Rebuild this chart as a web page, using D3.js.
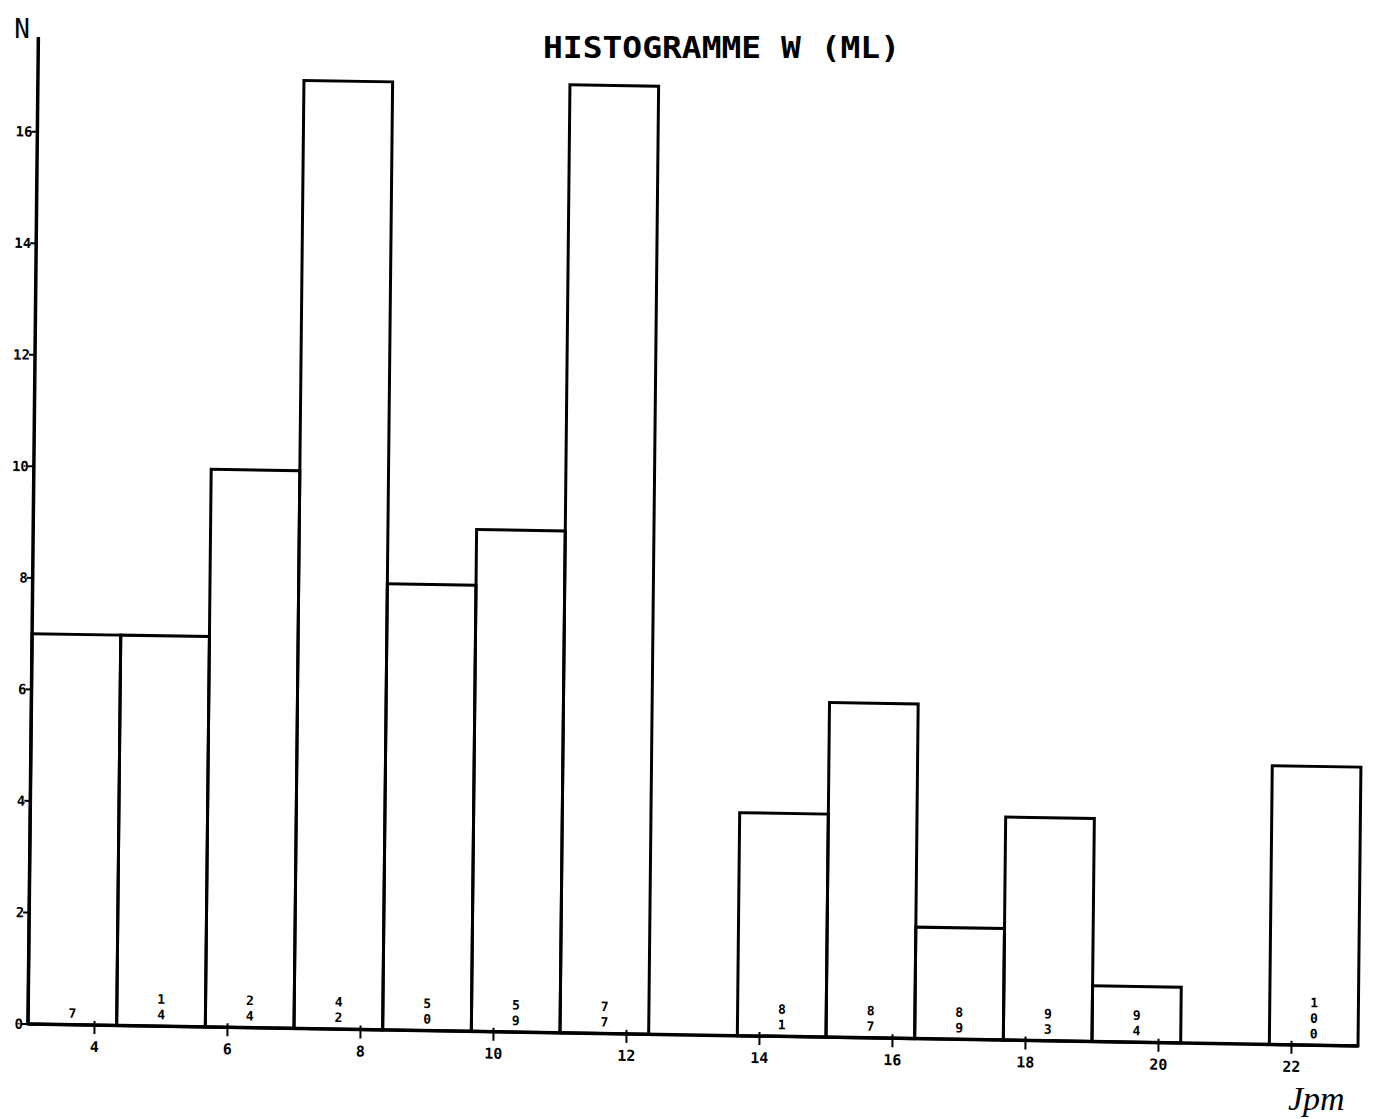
<!DOCTYPE html>
<html>
<head>
<meta charset="utf-8">
<script src="https://cdn.jsdelivr.net/npm/d3@7"></script>
<style>
  html, body { margin: 0; padding: 0; background: #fff; }
  svg { display: block; }
</style>
</head>
<body>
<script>
// ---- data ----
const binStart = 3;
const binWidth = 4 / 3;
const counts = [7, 7, 10, 17, 8, 9, 17, 0, 4, 6, 2, 4, 1, 0, 5];
const cumLabels = ["7", "14", "24", "42", "50", "59", "77", "", "81", "87", "89", "93", "94", "", "100"];
const xTicks = [4, 6, 8, 10, 12, 14, 16, 18, 20, 22];
const yTicks = [0, 2, 4, 6, 8, 10, 12, 14, 16];
const titleText = "HISTOGRAMME W (ML)";
const yAxisLabel = "N";
const signature = "Jpm";

const W = 1373, H = 1119;
const svg = d3.select("body").append("svg").attr("width", W).attr("height", H);

const x = d3.scaleLinear().domain([3, 23]).range([28, 1358]);
const y = d3.scaleLinear().domain([0, 17.7]).range([1024, 37]);

// slight skew of the scanned plot
const g = svg.append("g").attr("transform", "matrix(1,0.0165,-0.0105,1,10.75,-0.46)");

const bins = counts.map((c, i) => ({
  x0: binStart + i * binWidth,
  x1: binStart + (i + 1) * binWidth,
  n: c,
  lab: cumLabels[i]
}));

// bars
g.selectAll("rect.bar").data(bins.filter(d => d.n > 0)).join("rect")
  .attr("class", "bar")
  .attr("x", d => x(d.x0))
  .attr("width", d => x(d.x1) - x(d.x0))
  .attr("y", d => y(d.n))
  .attr("height", d => y(0) - y(d.n))
  .attr("fill", "none")
  .attr("stroke", "#000")
  .attr("stroke-width", 3);

// axes lines
g.append("line").attr("x1", x(3)).attr("x2", x(23)).attr("y1", y(0)).attr("y2", y(0))
  .attr("stroke", "#000").attr("stroke-width", 3.5);
g.append("line").attr("x1", x(3)).attr("x2", x(3)).attr("y1", y(0)).attr("y2", y(17.7))
  .attr("stroke", "#000").attr("stroke-width", 3.5);

// y ticks
const yt = g.selectAll("g.yt").data(yTicks).join("g").attr("class", "yt")
  .attr("transform", d => `translate(${x(3)},${y(d)})`);
yt.append("line").attr("x1", -6).attr("x2", 0).attr("stroke", "#000").attr("stroke-width", 2);
yt.append("text").attr("x", -5).attr("dy", "0.35em").attr("text-anchor", "end")
  .attr("font-family", "DejaVu Sans Mono").attr("font-size", 14).attr("font-weight", "bold")
  .text(d => d);

// x ticks
const xt = g.selectAll("g.xt").data(xTicks).join("g").attr("class", "xt")
  .attr("transform", d => `translate(${x(d)},${y(0)})`);
xt.append("line").attr("y1", -4).attr("y2", 9).attr("stroke", "#000").attr("stroke-width", 2);
xt.append("text").attr("y", 27).attr("text-anchor", "middle")
  .attr("font-family", "DejaVu Sans Mono").attr("font-size", 15).attr("font-weight", "bold")
  .text(d => d);

// cumulative labels (stacked digits)
bins.forEach(d => {
  if (!d.lab) return;
  const digits = d.lab.split("");
  const cx = (x(d.x0) + x(d.x1)) / 2;
  digits.forEach((ch, k) => {
    const fromBottom = digits.length - 1 - k;
    g.append("text")
      .attr("font-family", "DejaVu Sans Mono").attr("font-size", 13).attr("font-weight", "bold")
      .attr("text-anchor", "middle")
      .attr("x", cx).attr("y", y(0) - 7 - fromBottom * 15.5).text(ch);
  });
});

// title and labels
svg.append("text").attr("x", 543).attr("y", 58)
  .attr("font-family", "DejaVu Sans Mono").attr("font-size", 30).attr("font-weight", "bold")
  .attr("textLength", 357).attr("lengthAdjust", "spacingAndGlyphs")
  .text(titleText);
svg.append("text").attr("x", 22).attr("y", 38).attr("text-anchor", "middle")
  .attr("font-family", "DejaVu Sans Mono").attr("font-size", 26)
  .text(yAxisLabel);
svg.append("text").attr("x", 1288).attr("y", 1110)
  .attr("font-family", "Liberation Serif").attr("font-style", "italic").attr("font-size", 34)
  .text(signature);
</script>
</body>
</html>
